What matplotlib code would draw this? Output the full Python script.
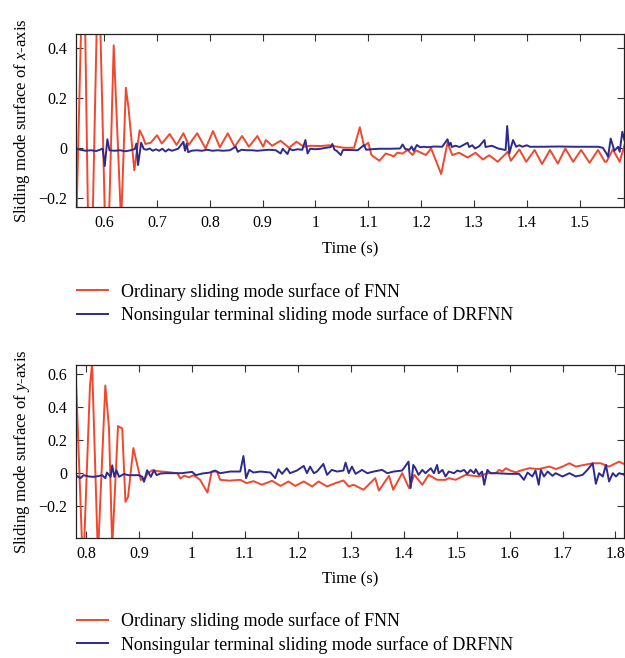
import matplotlib
matplotlib.use("Agg")
import matplotlib.pyplot as plt
from matplotlib.ticker import FuncFormatter

plt.rcParams["font.family"] = ["Liberation Serif", "DejaVu Serif"]
plt.rcParams["mathtext.fontset"] = "custom"
plt.rcParams["mathtext.rm"] = "Liberation Serif"
plt.rcParams["mathtext.it"] = "Liberation Serif:italic"

RED = "#F0472D"
BLUE = "#2E2A8E"

# ---- x-axis panel ----
x_red_t = [0.545, 0.561, 0.573, 0.589, 0.605, 0.618, 0.632, 0.641, 0.646, 0.657,
           0.667, 0.673, 0.678, 0.688, 0.700, 0.709, 0.724, 0.737, 0.750, 0.760,
           0.776, 0.792, 0.806, 0.819, 0.834, 0.847, 0.861, 0.874, 0.890, 0.901,
           0.906, 0.918, 0.934, 0.950, 0.964, 0.978, 0.991, 1.010, 1.026, 1.042,
           1.054, 1.073, 1.084, 1.092, 1.100, 1.106, 1.121, 1.133, 1.143, 1.148,
           1.155, 1.165, 1.174, 1.184, 1.190, 1.200, 1.209, 1.219, 1.238, 1.250,
           1.259, 1.272, 1.288, 1.303, 1.317, 1.329, 1.345, 1.364, 1.370, 1.386,
           1.399, 1.415, 1.429, 1.444, 1.459, 1.473, 1.488, 1.503, 1.519, 1.535,
           1.548, 1.551, 1.563, 1.576, 1.585]
x_red_s = [-0.50, 0.90, -0.80, 0.80, -0.60, 0.41, -0.30, 0.24, 0.16, -0.09,
           0.07, 0.045, 0.015, 0.02, 0.05, 0.017, 0.055, 0.011, 0.058, 0.011,
           0.058, -0.003, 0.067, 0.002, 0.058, 0.004, 0.047, 0.004, 0.047, 0.004,
           0.031, 0.008, 0.028, 0.0, 0.024, 0.004, 0.008, 0.007, 0.010, 0.004,
           0.0, 0.0, 0.082, 0.007, 0.02, -0.029, -0.052, -0.023, -0.03, -0.035,
           -0.02, -0.023, -0.009, -0.029, -0.01, -0.02, -0.029, -0.003, -0.105, 0.02,
           -0.029, -0.02, -0.039, -0.02, -0.047, -0.03, -0.056, -0.016, -0.052, -0.007,
           -0.056, -0.009, -0.065, -0.009, -0.063, -0.003, -0.056, -0.009, -0.060, -0.009,
           -0.056, -0.056, -0.007, -0.056, 0.01]

x_blue_t = [0.545, 0.555, 0.565, 0.575, 0.585, 0.592, 0.597, 0.601, 0.606, 0.610,
            0.620, 0.630, 0.640, 0.650, 0.658, 0.661, 0.664, 0.670, 0.675, 0.680,
            0.686, 0.692, 0.698, 0.704, 0.710, 0.716, 0.722, 0.728, 0.734, 0.740,
            0.750, 0.753, 0.756, 0.759, 0.765, 0.775, 0.785, 0.795, 0.805, 0.815,
            0.825, 0.838, 0.849, 0.853, 0.860, 0.870, 0.880, 0.890, 0.900, 0.912,
            0.925, 0.934, 0.938, 0.947, 0.951, 0.957, 0.966, 0.975, 0.981, 0.985,
            0.990, 1.000, 1.010, 1.020, 1.029, 1.032, 1.036, 1.040, 1.048, 1.052,
            1.065, 1.080, 1.092, 1.096, 1.105, 1.120, 1.140, 1.160, 1.165, 1.170,
            1.178, 1.182, 1.186, 1.192, 1.198, 1.205, 1.214, 1.225, 1.240, 1.250,
            1.253, 1.256, 1.258, 1.265, 1.273, 1.288, 1.291, 1.297, 1.302, 1.310,
            1.320, 1.322, 1.334, 1.346, 1.360, 1.363, 1.367, 1.374, 1.380, 1.386,
            1.392, 1.400, 1.406, 1.430, 1.460, 1.490, 1.520, 1.535, 1.544, 1.551,
            1.554, 1.559, 1.566, 1.573, 1.576, 1.581, 1.585]
x_blue_s = [-0.003, -0.008, -0.012, -0.010, -0.013, -0.008, -0.003, -0.073, 0.034, -0.010,
            -0.012, -0.010, -0.014, -0.010, -0.005, 0.017, -0.069, 0.020, -0.005, -0.008,
            -0.003, -0.012, -0.006, -0.012, -0.004, -0.015, -0.006, -0.012, -0.008, -0.004,
            0.024, -0.012, 0.016, -0.018, -0.012, -0.010, -0.012, -0.008, -0.012, -0.010,
            -0.012, -0.010, 0.004, -0.016, -0.008, -0.010, -0.010, -0.012, -0.010, -0.008,
            -0.010, -0.023, -0.004, -0.025, -0.004, -0.010, -0.006, -0.008, 0.031, -0.023,
            -0.004, -0.006, -0.004, 0.0, 0.003, 0.015, -0.008, -0.012, -0.029, -0.009,
            -0.009, -0.010, 0.011, -0.008, -0.006, -0.004, -0.004, -0.003, 0.013, -0.005,
            -0.008, 0.005, -0.012, 0.011, 0.002, 0.004, 0.002, 0.005, 0.004, 0.034,
            0.011, 0.020, 0.003, 0.008, 0.003, 0.020, 0.003, 0.010, -0.003, 0.006,
            0.031, 0.003, 0.008, -0.003, -0.009, 0.087, -0.023, 0.031, 0.004, 0.010,
            0.004, 0.010, 0.004, 0.004, 0.005, 0.004, 0.004, 0.004, 0.0, -0.023,
            -0.036, 0.037, -0.012, 0.004, -0.016, 0.064, 0.03]

# ---- y-axis panel ----
y_red_t = [0.779, 0.794, 0.807, 0.811, 0.822, 0.836, 0.843, 0.849, 0.860, 0.868,
           0.874, 0.879, 0.889, 0.903, 0.906, 0.909, 0.916, 0.925, 0.935, 0.950,
           0.972, 0.978, 0.985, 0.994, 1.003, 1.015, 1.029, 1.037, 1.047, 1.053,
           1.070, 1.091, 1.103, 1.116, 1.132, 1.151, 1.167, 1.182, 1.195, 1.211,
           1.227, 1.239, 1.255, 1.271, 1.286, 1.296, 1.305, 1.324, 1.346, 1.353,
           1.372, 1.380, 1.397, 1.410, 1.420, 1.435, 1.447, 1.463, 1.479, 1.485,
           1.498, 1.517, 1.542, 1.558, 1.574, 1.580, 1.586, 1.593, 1.602, 1.612,
           1.620, 1.637, 1.655, 1.675, 1.688, 1.700, 1.713, 1.725, 1.741, 1.757,
           1.772, 1.788, 1.807, 1.820]
y_red_s = [0.70, -0.60, 0.53, 0.66, -0.50, 0.53, 0.27, -0.45, 0.285, 0.27,
           -0.173, -0.143, 0.152, -0.042, -0.03, -0.048, 0.0, 0.018, 0.012, 0.008,
           0.0, -0.032, -0.015, -0.025, -0.012, -0.04, -0.117, 0.01, 0.01, -0.04,
           -0.045, -0.04, -0.06, -0.048, -0.07, -0.046, -0.077, -0.05, -0.077, -0.05,
           -0.08, -0.05, -0.08, -0.06, -0.044, -0.08, -0.07, -0.10, -0.03, -0.105,
           -0.016, -0.10, 0.0, -0.09, -0.01, -0.07, -0.01, -0.04, -0.04, -0.03,
           -0.04, -0.01, -0.02, 0.0, 0.0, 0.02, 0.01, 0.03, 0.015, 0.005,
           0.015, 0.03, 0.025, 0.04, 0.025, 0.04, 0.06, 0.04, 0.05, 0.06,
           0.06, 0.04, 0.07, 0.05]

y_blue_t = [0.779, 0.789, 0.795, 0.805, 0.814, 0.822, 0.830, 0.836, 0.839, 0.846,
            0.849, 0.853, 0.857, 0.862, 0.871, 0.880, 0.887, 0.899, 0.906, 0.909,
            0.915, 0.922, 0.928, 0.933, 0.940, 0.950, 0.965, 0.980, 1.000, 1.007,
            1.019, 1.034, 1.043, 1.053, 1.072, 1.091, 1.097, 1.102, 1.108, 1.116,
            1.129, 1.148, 1.157, 1.163, 1.170, 1.179, 1.185, 1.198, 1.211, 1.217,
            1.223, 1.230, 1.236, 1.248, 1.255, 1.264, 1.274, 1.286, 1.290, 1.296,
            1.302, 1.309, 1.321, 1.331, 1.343, 1.359, 1.369, 1.381, 1.397, 1.409,
            1.413, 1.418, 1.422, 1.428, 1.435, 1.441, 1.451, 1.457, 1.463, 1.466,
            1.473, 1.479, 1.485, 1.495, 1.501, 1.507, 1.514, 1.520, 1.526, 1.533,
            1.536, 1.542, 1.548, 1.552, 1.558, 1.564, 1.574, 1.599, 1.618, 1.627,
            1.634, 1.643, 1.649, 1.655, 1.659, 1.665, 1.672, 1.681, 1.687, 1.700,
            1.713, 1.725, 1.738, 1.747, 1.757, 1.763, 1.769, 1.776, 1.782, 1.788,
            1.795, 1.801, 1.807, 1.817]
y_blue_s = [-0.012, -0.03, -0.012, -0.02, -0.022, -0.018, -0.012, -0.03, 0.004, -0.022,
            0.048, -0.022, 0.018, -0.022, -0.005, -0.012, -0.012, -0.012, -0.022, -0.052,
            0.018, -0.022, 0.018, -0.012, -0.002, 0.0, 0.0, 0.0, 0.008, -0.012,
            -0.002, 0.004, 0.016, 0.0, 0.01, 0.01, 0.104, -0.03, 0.02, 0.004,
            0.01, 0.004, -0.03, 0.024, -0.004, 0.03, 0.0, 0.016, 0.044, 0.0,
            0.04, 0.0, 0.01, 0.056, -0.01, 0.02, 0.01, 0.016, 0.064, 0.0,
            0.04, -0.004, 0.02, 0.0, 0.01, 0.02, 0.0, 0.01, 0.016, 0.07,
            -0.09, 0.05, 0.03, -0.01, 0.02, 0.0, 0.03, 0.0, 0.05, 0.0,
            0.02, -0.02, 0.01, 0.0, 0.016, 0.01, 0.02, -0.004, 0.02, 0.0,
            0.024, -0.01, 0.01, -0.07, 0.02, 0.0, 0.0, -0.004, -0.004, -0.04,
            0.004, -0.02, 0.016, -0.07, 0.02, -0.02, 0.01, -0.016, 0.0, -0.02,
            0.0, -0.02, -0.01, 0.02, 0.06, -0.064, 0.0, -0.02, 0.05, -0.05,
            0.0, -0.02, 0.0, -0.01]

labels = ["Ordinary sliding mode surface of FNN",
          "Nonsingular terminal sliding mode surface of DRFNN"]
x_ticks = [0.6, 0.7, 0.8, 0.9, 1.0, 1.1, 1.2, 1.3, 1.4, 1.5]
x_yticks = [-0.2, 0, 0.2, 0.4]
y_ticks = [0.8, 0.9, 1.0, 1.1, 1.2, 1.3, 1.4, 1.5, 1.6, 1.7, 1.8]
y_yticks = [-0.2, 0, 0.2, 0.4, 0.6]


def fmt(v, pos):
    s = "%g" % round(v, 3)
    return s.replace("-", "\u2212")


def style_axes(ax):
    ax.tick_params(direction="in", top=True, right=True, length=5, width=0.8,
                   labelsize=11.5, color="#333333", pad=6)
    for sp in ax.spines.values():
        sp.set_linewidth(0.9)
        sp.set_color("#222222")
    ax.xaxis.set_major_formatter(FuncFormatter(fmt))
    ax.yaxis.set_major_formatter(FuncFormatter(fmt))


def add_legend(ax, y):
    ax.legend(loc="upper left", bbox_to_anchor=(0.123, y), bbox_transform=fig.transFigure,
              frameon=False, fontsize=13, handlelength=1.7, handletextpad=0.75,
              borderpad=0, borderaxespad=0, labelspacing=0.3)


fig = plt.figure(figsize=(6.25, 6.58), dpi=100)

ax1 = fig.add_axes([0.1211, 0.6854, 0.878, 0.2629])
ax1.plot(x_red_t, x_red_s, color=RED, lw=1.4, label=labels[0])
ax1.plot(x_blue_t, x_blue_s, color=BLUE, lw=1.4, label=labels[1])
ax1.set_xlim(0.546, 1.585)
ax1.set_ylim(-0.237, 0.455)
ax1.set_xticks(x_ticks)
ax1.set_yticks(x_yticks)
style_axes(ax1)
ax1.set_xlabel("Time (s)", fontsize=12, labelpad=7)
ax1.set_ylabel("Sliding mode surface of $x$-axis", fontsize=12, labelpad=5)
add_legend(ax1, 0.570)

ax2 = fig.add_axes([0.1211, 0.1828, 0.878, 0.2625])
ax2.plot(y_red_t, y_red_s, color=RED, lw=1.4, label=labels[0])
ax2.plot(y_blue_t, y_blue_s, color=BLUE, lw=1.4, label=labels[1])
ax2.set_xlim(0.78, 1.817)
ax2.set_ylim(-0.39, 0.654)
ax2.set_xticks(y_ticks)
ax2.set_yticks(y_yticks)
style_axes(ax2)
ax2.set_xlabel("Time (s)", fontsize=12, labelpad=7)
ax2.set_ylabel("Sliding mode surface of $y$-axis", fontsize=12, labelpad=5)
add_legend(ax2, 0.069)

fig.savefig("out.png", dpi=100)
